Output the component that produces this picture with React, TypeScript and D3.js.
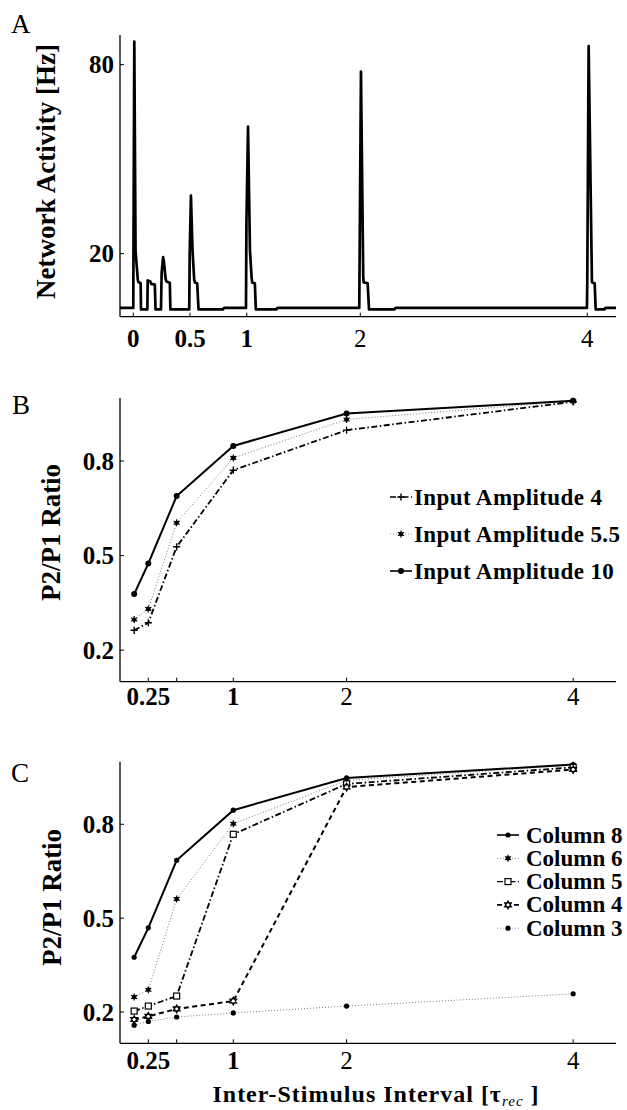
import React from 'react';
import * as d3 from 'd3';

// ---------- Panel A: network activity trace ----------
const traceTime = [
  -0.117, 0.0,
  0.002, 0.009, 0.02, 0.04, 0.045, 0.065, 0.068,
  0.124, 0.127, 0.15, 0.158, 0.19, 0.196,
  0.244, 0.25, 0.263, 0.27, 0.285, 0.292, 0.322, 0.327,
  0.493, 0.497, 0.508, 0.522, 0.537, 0.545, 0.563, 0.575,
  0.79, 0.8, 0.993,
  0.997, 1.011, 1.028, 1.042, 1.048, 1.071, 1.08,
  1.26, 1.27, 1.991,
  1.993, 2.006, 2.026, 2.03, 2.065, 2.077,
  2.3, 2.31, 3.997,
  4.0, 4.012, 4.041, 4.046, 4.065, 4.074,
  4.15, 4.16, 4.253,
];
const traceRate = [
  2.8, 2.8,
  24, 87.3, 21, 11.6, 11, 10.6, 2.3,
  2.3, 11.5, 11.2, 10.4, 10.2, 2.3,
  2.3, 14, 18.9, 17.5, 12, 11.2, 10.8, 2.3,
  2.3, 20, 38.4, 21, 11.6, 10.8, 10.6, 2.3,
  2.3, 2.8, 2.8,
  30, 60.3, 21, 12.7, 10.8, 10.6, 2.3,
  2.3, 2.8, 2.8,
  12.7, 77.8, 12.7, 10.9, 10.6, 2.3,
  2.3, 2.8, 2.8,
  12, 85.9, 11.1, 10.8, 10.6, 2.3,
  2.3, 2.8, 2.8,
];
const timeTicks = [0, 0.5, 1, 2, 4];
const timeTickLabels = ['0', '0.5', '1', '2', '4'];
const rateTicks = [20, 80];
const rateTickLabels = ['20', '80'];

// ---------- Panels B & C ----------
const isi = [0.125, 0.25, 0.5, 1, 2, 4];
const isiTicks = [0.25, 0.5, 1, 2, 4];
const isiTickLabels = ['0.25', '', '1', '2', '4'];
const ratioTicks = [0.2, 0.5, 0.8];
const ratioTickLabels = ['0.2', '0.5', '0.8'];

const amp4 = [0.263, 0.287, 0.528, 0.771, 0.898, 0.988];
const amp55 = [0.297, 0.331, 0.604, 0.81, 0.932, 0.99];
const amp10 = [0.378, 0.475, 0.689, 0.848, 0.951, 0.991];
const ampNames = ['Input Amplitude 4', 'Input Amplitude 5.5', 'Input Amplitude 10'];

const col8 = [0.375, 0.469, 0.685, 0.845, 0.948, 0.991];
const col6 = [0.248, 0.271, 0.561, 0.802, 0.94, 0.989];
const col5 = [0.203, 0.219, 0.251, 0.768, 0.929, 0.982];
const col4 = [0.176, 0.186, 0.21, 0.235, 0.919, 0.975];
const col3 = [0.158, 0.17, 0.184, 0.197, 0.219, 0.258];
const colNames = ['Column 8', 'Column 6', 'Column 5', 'Column 4', 'Column 3'];

const FONT = "'Liberation Serif', 'Times New Roman', serif";

type LineKind = 'solid' | 'dotted' | 'dashdot' | 'dashed';
type MarkKind = 'dot' | 'bigdot' | 'asterisk' | 'plus' | 'square' | 'star';

const lineStyle: Record<LineKind, { stroke: string; w: number; dash?: string }> = {
  solid: { stroke: '#000', w: 2 },
  dotted: { stroke: '#7a7a7a', w: 1, dash: '1,2' },
  dashdot: { stroke: '#000', w: 1.8, dash: '6,2.5,1.5,2.5' },
  dashed: { stroke: '#000', w: 2, dash: '5,3.5' },
};

const seriesB = [
  { name: ampNames[0], values: amp4, line: 'dashdot' as LineKind, mark: 'plus' as MarkKind },
  { name: ampNames[1], values: amp55, line: 'dotted' as LineKind, mark: 'asterisk' as MarkKind },
  { name: ampNames[2], values: amp10, line: 'solid' as LineKind, mark: 'bigdot' as MarkKind },
];
const seriesC = [
  { name: colNames[0], values: col8, line: 'solid' as LineKind, mark: 'dot' as MarkKind },
  { name: colNames[1], values: col6, line: 'dotted' as LineKind, mark: 'asterisk' as MarkKind },
  { name: colNames[2], values: col5, line: 'dashdot' as LineKind, mark: 'square' as MarkKind },
  { name: colNames[3], values: col4, line: 'dashed' as LineKind, mark: 'star' as MarkKind },
  { name: colNames[4], values: col3, line: 'dotted' as LineKind, mark: 'dot' as MarkKind },
];

const asteriskPath = d3.symbol(d3.symbolAsterisk, 34)() as string;

function hexagram(x: number, y: number, r: number) {
  const tri = (start: number) =>
    [0, 1, 2]
      .map((k) => {
        const a = ((start + k * 120) * Math.PI) / 180;
        return `${k === 0 ? 'M' : 'L'}${x + r * Math.cos(a)},${y + r * Math.sin(a)}`;
      })
      .join('') + 'Z';
  return tri(-90) + tri(90);
}

function Marker({ kind, x, y }: { kind: MarkKind; x: number; y: number }) {
  switch (kind) {
    case 'dot':
      return <circle cx={x} cy={y} r={2.6} fill="#000" />;
    case 'bigdot':
      return <circle cx={x} cy={y} r={3} fill="#000" />;
    case 'asterisk':
      return (
        <g>
          <circle cx={x} cy={y} r={2.2} fill="#000" />
          <path d={asteriskPath} transform={`translate(${x},${y})`} stroke="#000" strokeWidth={1.2} fill="none" />
        </g>
      );
    case 'plus':
      return (
        <path d={`M${x - 3.6},${y}H${x + 3.6}M${x},${y - 3.6}V${y + 3.6}`} stroke="#000" strokeWidth={1.4} fill="none" />
      );
    case 'square':
      return <rect x={x - 3} y={y - 3} width={6} height={6} fill="#fff" stroke="#000" strokeWidth={1.2} />;
    case 'star':
      return <path d={hexagram(x, y, 4)} fill="#fff" stroke="#000" strokeWidth={1.1} />;
  }
  return null;
}

const lightLabels = new Set(['2', '4']);

function XAxis({ scale, ticks, labels, y, x0, x1, labelY }: any) {
  return (
    <g>
      <line x1={x0} x2={x1} y1={y} y2={y} stroke="#000" strokeWidth={1.3} />
      {ticks.map((t: number, i: number) => (
        <g key={i}>
          <line x1={scale(t)} x2={scale(t)} y1={y} y2={y - 4} stroke="#000" strokeWidth={1} />
          <text
            x={scale(t)}
            y={labelY}
            textAnchor="middle"
            fontFamily={FONT}
            fontSize={25}
            fontWeight={lightLabels.has(labels[i]) ? 'normal' : 'bold'}
          >
            {labels[i]}
          </text>
        </g>
      ))}
    </g>
  );
}

function YAxis({ scale, ticks, labels, x, y0, y1 }: any) {
  return (
    <g>
      <line x1={x} x2={x} y1={y0} y2={y1} stroke="#000" strokeWidth={1.3} />
      {ticks.map((t: number, i: number) => (
        <g key={i}>
          <line x1={x} x2={x + 4} y1={scale(t)} y2={scale(t)} stroke="#000" strokeWidth={1} />
          <text x={114} y={scale(t) + 8.5} textAnchor="end" fontFamily={FONT} fontSize={25} fontWeight="bold">
            {labels[i]}
          </text>
        </g>
      ))}
    </g>
  );
}

function RatioPanel({ series, top, bottom, labelY, legend }: any) {
  const x = d3.scaleLinear().domain([0, 4.378]).range([120, 616]);
  const y = d3.scaleLinear().domain([0.1, 1.0]).range([bottom, top]);
  const line = d3
    .line<number>()
    .x((_, i) => x(isi[i]))
    .y((d) => y(d));
  const order = [...series].sort((a: any, b: any) => (a.line === 'dotted' ? -1 : 0) - (b.line === 'dotted' ? -1 : 0));
  return (
    <g>
      <YAxis scale={y} ticks={ratioTicks} labels={ratioTickLabels} x={120} y0={top} y1={bottom} />
      <XAxis scale={x} ticks={isiTicks} labels={isiTickLabels} y={bottom} x0={120} x1={616} labelY={labelY} />
      {order.map((s: any, k: number) => {
        const st = lineStyle[s.line as LineKind];
        return (
          <path
            key={'l' + k}
            d={line(s.values) as string}
            fill="none"
            stroke={st.stroke}
            strokeWidth={st.w}
            strokeDasharray={st.dash}
          />
        );
      })}
      {order.map((s: any, k: number) => (
        <g key={'m' + k}>
          {s.values.map((v: number, i: number) => (
            <Marker key={i} kind={s.mark} x={x(isi[i])} y={y(v)} />
          ))}
        </g>
      ))}
      {series.map((s: any, k: number) => {
        const st = lineStyle[s.line as LineKind];
        const ry = legend.y0 + k * legend.dy;
        return (
          <g key={'g' + k}>
            <line
              x1={legend.lx0}
              x2={legend.lx1}
              y1={ry}
              y2={ry}
              stroke={st.stroke}
              strokeWidth={st.w * 0.8}
              strokeDasharray={st.dash}
            />
            <Marker kind={s.mark} x={(legend.lx0 + legend.lx1) / 2} y={ry} />
            <text
              x={legend.tx}
              y={ry + 7.5}
              fontFamily={FONT}
              fontSize={legend.fs}
              letterSpacing={legend.ls}
              fontWeight="bold"
            >
              {s.name}
            </text>
          </g>
        );
      })}
    </g>
  );
}

export default function App() {
  const xA = d3.scaleLinear().domain([-0.117, 4.253]).range([120, 616]);
  const yA = d3.scaleLinear().domain([0, 89.4]).range([316.7, 35]);
  const traceLine = d3
    .line<number>()
    .x((_, i) => xA(traceTime[i]))
    .y((d) => yA(d));

  return (
    <svg
      width={627}
      height={1110}
      viewBox="0 0 627 1110"
      style={{ position: 'absolute', left: 0, top: 0, background: '#fff' }}
    >
      <rect x={0} y={0} width={627} height={1110} fill="#fff" />

      {/* Panel A */}
      <text x={11} y={33} fontFamily={FONT} fontSize={27}>A</text>
      <text
        transform="translate(55,171.5) rotate(-90)"
        textAnchor="middle"
        fontFamily={FONT}
        fontSize={27}
        fontWeight="bold"
      >
        Network Activity [Hz]
      </text>
      <YAxis scale={yA} ticks={rateTicks} labels={rateTickLabels} x={120} y0={35} y1={316.7} />
      <XAxis scale={xA} ticks={timeTicks} labels={timeTickLabels} y={316.7} x0={120} x1={616} labelY={347} />
      <path
        d={traceLine(traceRate) as string}
        fill="none"
        stroke="#000"
        strokeWidth={2.7}
        strokeLinejoin="round"
      />

      {/* Panel B */}
      <text x={12} y={414} fontFamily={FONT} fontSize={27}>B</text>
      <text
        transform="translate(60,532.5) rotate(-90)"
        textAnchor="middle"
        fontFamily={FONT}
        fontSize={27}
        fontWeight="bold"
      >
        P2/P1 Ratio
      </text>
      <RatioPanel
        series={seriesB}
        top={398}
        bottom={681.7}
        labelY={705}
        legend={{ y0: 497, dy: 37, lx0: 390, lx1: 412, tx: 414, fs: 23, ls: 0.4 }}
      />

      {/* Panel C */}
      <text x={11} y={782} fontFamily={FONT} fontSize={27}>C</text>
      <text
        transform="translate(61,897.5) rotate(-90)"
        textAnchor="middle"
        fontFamily={FONT}
        fontSize={27}
        fontWeight="bold"
      >
        P2/P1 Ratio
      </text>
      <RatioPanel
        series={seriesC}
        top={761.7}
        bottom={1043.3}
        labelY={1069}
        legend={{ y0: 835, dy: 23.3, lx0: 497, lx1: 519, tx: 526, fs: 23, ls: 0 }}
      />
      <text
        x={376}
        y={1102}
        textAnchor="middle"
        fontFamily={FONT}
        fontSize={24}
        fontWeight="bold"
        letterSpacing={1}
      >
        Inter-Stimulus Interval [τ
        <tspan fontStyle="italic" fontWeight="normal" fontSize={15} dy={4}>rec</tspan>
        <tspan dy={-4}> ]</tspan>
      </text>
    </svg>
  );
}
